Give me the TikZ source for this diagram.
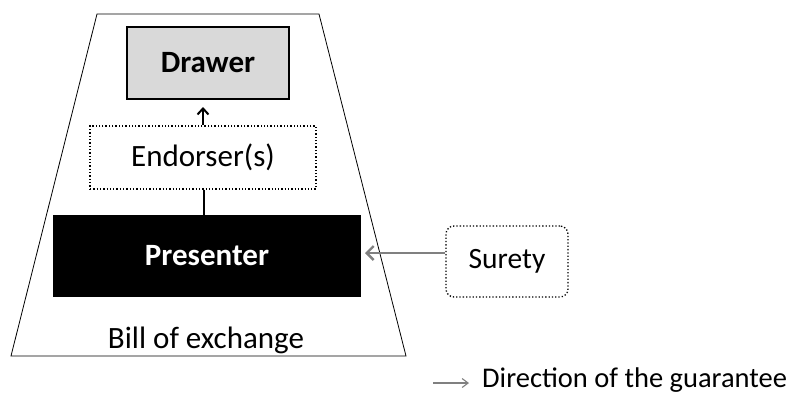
\documentclass[tikz,border=0pt]{standalone}
\usepackage{fontspec}
\setmainfont{Carlito}
\usetikzlibrary{arrows.meta}
\definecolor{boxgray}{RGB}{217,217,217}
\definecolor{arrgray}{RGB}{128,128,128}
\tikzset{
  lbl/.style={font=\fontsize{31}{34}\selectfont, inner sep=0pt},
  blbl/.style={font=\fontsize{31}{34}\selectfont\bfseries, inner sep=0pt},
  dotbox/.style={draw, line width=1.3pt, dotted},
}
\begin{document}
\begin{tikzpicture}[x=1pt,y=-1pt]
\useasboundingbox (0,0) rectangle (790,394);
\fill[white] (0,0) rectangle (790,394);
% trapezoid
\draw[line width=0.8pt] (97,14) -- (319,14) -- (406,356) -- (11,356) -- cycle;
% boxes
\node[draw, line width=1.5pt, fill=boxgray, minimum width=162pt, minimum height=72pt, blbl] (drawer) at (208,63) {Drawer};
\node[dotbox, minimum width=226pt, minimum height=63pt, lbl] (endorser) at (203,157.5) {Endorser(s)};
\node[fill=black, text=white, minimum width=308pt, minimum height=82pt, blbl] (presenter) at (207,256) {Presenter};
\node[dotbox, rounded corners=8pt, minimum width=122pt, minimum height=71pt, lbl,
      font=\fontsize{29.5}{32}\selectfont] (surety) at (507,261.5) {Surety};
\node[lbl] (bill) at (206,340) {Bill of exchange};
% connectors
\coordinate (tipd) at (203,107);
\draw[line width=2pt, -{Straight Barb[length=6pt,width=11pt]}] (endorser.north -| tipd) -- (tipd);
\draw[line width=1.8pt] (endorser.south -| 204,0) -- (presenter.north -| 204,0);
\coordinate (tips) at (365,253);
\draw[arrgray, line width=2.4pt, -{Straight Barb[length=7pt,width=14pt]}] (surety.west |- tips) -- (tips);
% legend
\coordinate (la) at (433,383);
\coordinate (lb) at (469,383);
\draw[arrgray, line width=1.1pt, -{Straight Barb[length=6pt,width=9pt]}] (la) -- (lb);
\node[lbl, anchor=base west, font=\fontsize{28.5}{31}\selectfont] (legend) at (482,387) {Direction of the guarantee};
\end{tikzpicture}
\end{document}
